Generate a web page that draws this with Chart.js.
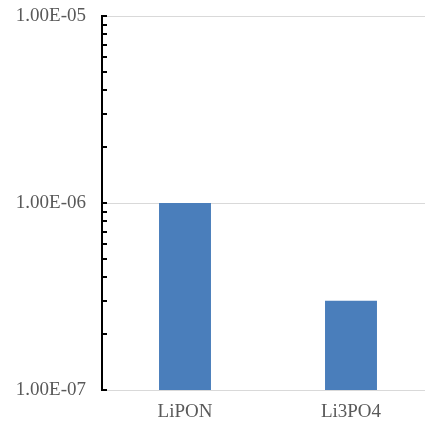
<!DOCTYPE html>
<html>
<head>
<meta charset="utf-8">
<script src="https://cdn.jsdelivr.net/npm/chart.js@4"></script>
<style>
html,body{margin:0;padding:0;background:#fff;overflow:hidden;}
#wrap{width:434px;height:429px;}
</style>
</head>
<body>
<div id="wrap"><canvas id="c" width="434" height="429"></canvas></div>
<script>
const categories = ['LiPON', 'Li3PO4'];
const values = [1.0e-6, 3.0e-7];
const tickValues = [1e-7, 1e-6, 1e-5];
const tickLabels = ['1.00E-07', '1.00E-06', '1.00E-05'];
const minorMultipliers = [1, 2, 3, 4, 5, 6, 7, 8, 9];

function majorIndex(v) {
  for (let i = 0; i < tickValues.length; i++) {
    if (Math.abs(v / tickValues[i] - 1) < 1e-6) return i;
  }
  return -1;
}

const innerTicks = {
  id: 'innerTicks',
  afterDatasetsDraw(chart) {
    const y = chart.scales.y;
    const ctx = chart.ctx;
    const x0 = chart.chartArea.left;
    ctx.save();
    ctx.strokeStyle = '#000';
    ctx.lineWidth = 2;
    y.ticks.forEach(t => {
      const py = Math.round(y.getPixelForValue(t.value));
      ctx.beginPath();
      ctx.moveTo(x0, py);
      ctx.lineTo(x0 + 5, py);
      ctx.stroke();
    });
    ctx.restore();
  }
};

new Chart(document.getElementById('c'), {
  type: 'bar',
  data: {
    labels: categories,
    datasets: [{
      data: values,
      backgroundColor: '#4a7ebb',
      borderWidth: 0,
      barPercentage: 0.313,
      categoryPercentage: 1.0
    }]
  },
  options: {
    responsive: false,
    animation: false,
    layout: { padding: { top: 16, left: 0, right: 0, bottom: 0 } },
    plugins: { legend: { display: false }, tooltip: { enabled: false } },
    scales: {
      x: {
        grid: { display: false, drawTicks: false },
        border: { display: true, color: '#d9d9d9', width: 1 },
        ticks: {
          color: '#595959',
          padding: 11,
          font: { family: 'Liberation Serif', size: 19 }
        },
        afterFit(scale) { scale.height = 39; scale.paddingLeft = 0; scale.paddingRight = 0; }
      },
      y: {
        type: 'logarithmic',
        min: tickValues[0],
        max: tickValues[tickValues.length - 1],
        afterBuildTicks(scale) {
          const ticks = [];
          for (let i = 0; i < tickValues.length; i++) {
            if (i === tickValues.length - 1) {
              ticks.push({ value: tickValues[i] });
            } else {
              minorMultipliers.forEach(m => ticks.push({ value: tickValues[i] * m }));
            }
          }
          scale.ticks = ticks;
        },
        afterFit(scale) { scale.width = 102; scale.paddingTop = 0; scale.paddingBottom = 0; },
        grid: {
          drawTicks: false,
          color: ctx => (ctx.tick && majorIndex(ctx.tick.value) >= 0) ? '#d9d9d9' : 'rgba(0,0,0,0)',
          lineWidth: 1
        },
        border: { display: true, color: '#000', width: 2 },
        ticks: {
          autoSkip: false,
          color: '#595959',
          padding: 16,
          font: { family: 'Liberation Serif', size: 19 },
          callback: (v) => {
            const i = majorIndex(v);
            return i >= 0 ? tickLabels[i] : '';
          }
        }
      }
    }
  },
  plugins: [innerTicks]
});
</script>
</body>
</html>
